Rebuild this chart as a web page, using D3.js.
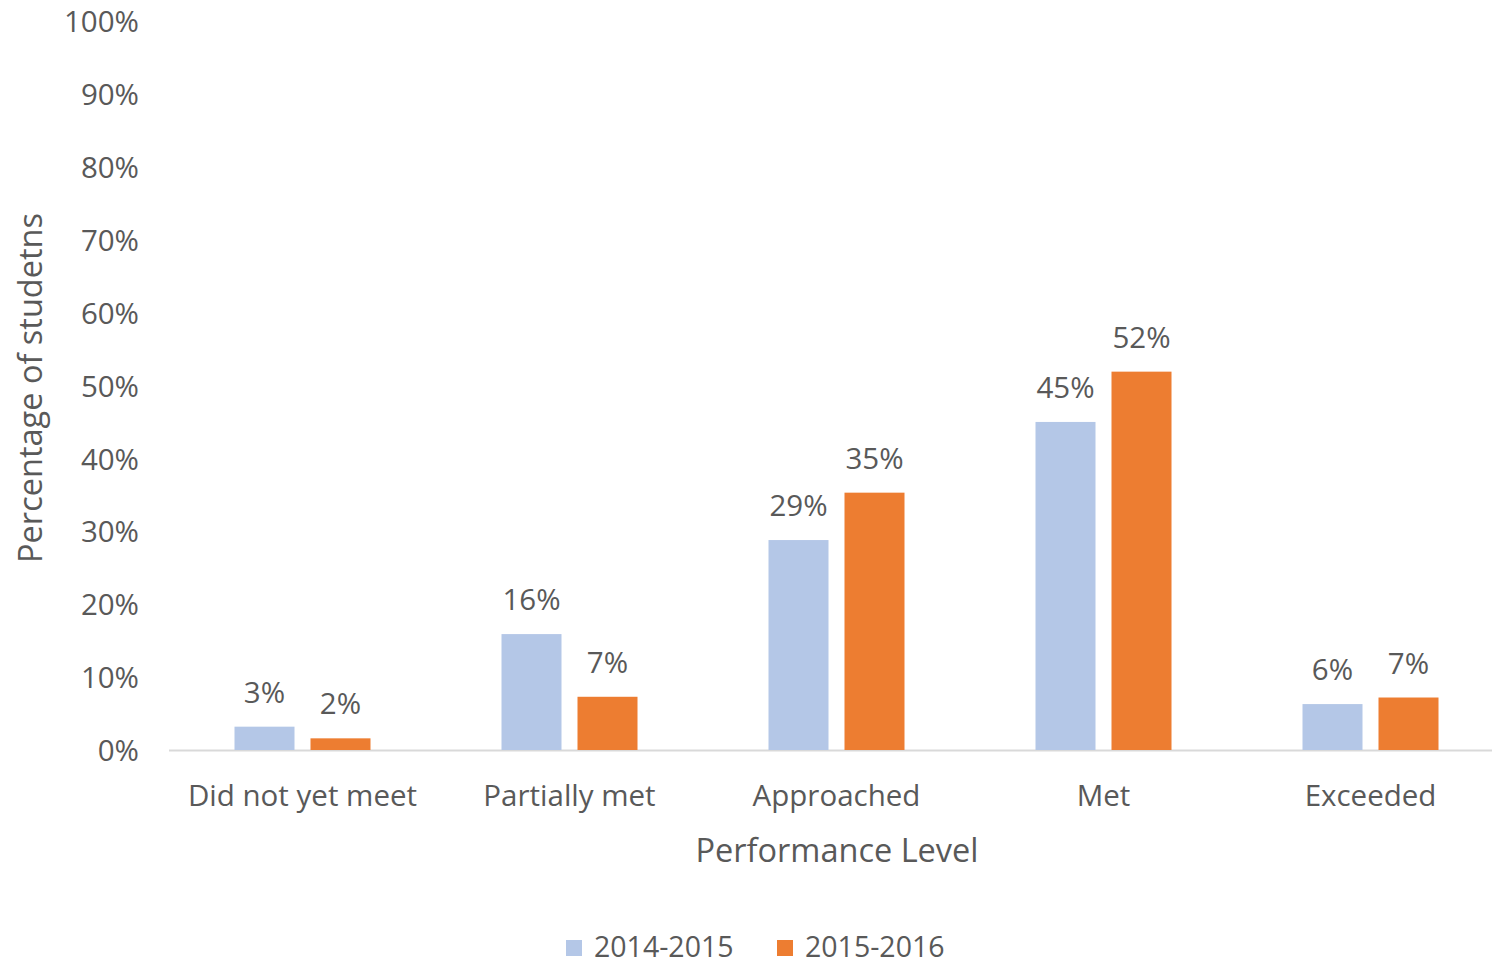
<!DOCTYPE html>
<html>
<head>
<meta charset="utf-8">
<script src="https://cdn.jsdelivr.net/npm/d3@7"></script>
<style>
  html, body { margin: 0; padding: 0; background: #fff; }
  svg text { font-family: "Open Sans", "Noto Sans", sans-serif; fill: #595959; }
</style>
</head>
<body>
<svg id="chart" width="1492" height="965"></svg>
<script>
const categories = ["Did not yet meet", "Partially met", "Approached", "Met", "Exceeded"];
const seriesNames = ["2014-2015", "2015-2016"];
const values2014 = [3.2, 15.9, 28.8, 45.0, 6.3];
const values2015 = [1.6, 7.3, 35.3, 51.9, 7.2];
const yTicks = [0, 10, 20, 30, 40, 50, 60, 70, 80, 90, 100];
const colors = ["#B4C7E7", "#ED7D31"];
const xTitle = "Performance Level";
const yTitle = "Percentage of studetns";

const svg = d3.select("#chart");
const plotLeft = 169, plotRight = 1504, plotTop = 21, plotBottom = 750;

const x = d3.scaleBand().domain(categories).range([plotLeft, plotRight]).paddingInner(0).paddingOuter(0);
const step = x.bandwidth();
const groupWidth = 136;
const x1 = d3.scaleBand().domain(seriesNames)
  .range([(step - groupWidth) / 2, (step + groupWidth) / 2])
  .paddingInner(16 / 76).paddingOuter(0);
const y = d3.scaleLinear().domain([0, 100]).range([plotBottom, plotTop]);

const fs = 29.5;

// y axis labels
const yAxis = d3.axisLeft(y).tickValues(yTicks).tickFormat(d => d + "%").tickSize(0).tickPadding(0);
const gy = svg.append("g").attr("transform", `translate(139,0)`).call(yAxis);
gy.select(".domain").remove();
gy.selectAll("text").style("font-size", fs + "px").attr("fill", "#595959").attr("dy", "0.36em");

// baseline
svg.append("line").attr("x1", plotLeft).attr("x2", 1492).attr("y1", y(0) + 0.5).attr("y2", y(0) + 0.5)
  .attr("stroke", "#D9D9D9").attr("stroke-width", 2);

// x axis labels
const xAxis = d3.axisBottom(x).tickSize(0).tickPadding(0);
const gx = svg.append("g").attr("transform", `translate(0,${plotBottom})`).call(xAxis);
gx.select(".domain").remove();
gx.selectAll("text").style("font-size", fs + "px").attr("fill", "#595959").attr("y", 56).attr("dy", 0);

const rows = categories.map((c, i) => ({ cat: c, vals: [values2014[i], values2015[i]] }));

const groups = svg.append("g").selectAll("g").data(rows).join("g")
  .attr("transform", d => `translate(${x(d.cat)},0)`);

groups.selectAll("rect").data(d => d.vals.map((v, j) => ({ v, s: seriesNames[j], j }))).join("rect")
  .attr("x", d => x1(d.s))
  .attr("width", x1.bandwidth())
  .attr("y", d => y(d.v))
  .attr("height", d => y(0) - y(d.v))
  .attr("fill", d => colors[d.j]);

groups.selectAll("text.lbl").data(d => d.vals.map((v, j) => ({ v, s: seriesNames[j], j }))).join("text")
  .attr("class", "lbl")
  .attr("x", d => x1(d.s) + x1.bandwidth() / 2)
  .attr("y", d => y(d.v) - 24)
  .attr("text-anchor", "middle")
  .style("font-size", fs + "px")
  .text(d => Math.round(d.v) + "%");

// axis titles
svg.append("text").attr("x", 837).attr("y", 862).attr("text-anchor", "middle")
  .style("font-size", "32.5px").text(xTitle);
svg.append("text").attr("transform", "translate(42,388) rotate(-90)").attr("text-anchor", "middle")
  .style("font-size", "32.5px").text(yTitle);

// legend
const legend = svg.append("g");
const legendItems = [{ name: seriesNames[0], x: 566 }, { name: seriesNames[1], x: 777 }];
legendItems.forEach((it, i) => {
  legend.append("rect").attr("x", it.x).attr("y", 940).attr("width", 16).attr("height", 16).attr("fill", colors[i]);
  legend.append("text").attr("x", it.x + 28).attr("y", 957).style("font-size", "28.5px").text(it.name);
});
</script>
</body>
</html>
